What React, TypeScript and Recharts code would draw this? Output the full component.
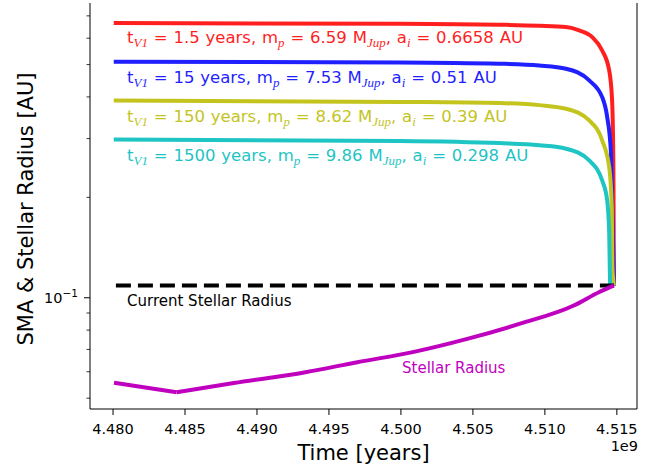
import { LineChart, Line, XAxis, YAxis } from "recharts"

// time in units of 1e9 years, radii / SMA in AU
const redTime = [4.48005, 4.49992, 4.50685, 4.50961, 4.51147, 4.51238, 4.51329, 4.51398, 4.51447, 4.51467, 4.51476, 4.5148]
const redSma = [0.6658, 0.663, 0.6585, 0.654, 0.6477, 0.633, 0.6045, 0.5513, 0.48, 0.3905, 0.2459, 0.1089]

const blueTime = [4.48005, 4.49992, 4.50685, 4.50961, 4.51147, 4.51308, 4.51398, 4.51433, 4.51458, 4.51467, 4.5148]
const blueSma = [0.51, 0.5077, 0.503, 0.497, 0.486, 0.4483, 0.3995, 0.3479, 0.2764, 0.1957, 0.1089]

const oliveTime = [4.48005, 4.49992, 4.50685, 4.50961, 4.51147, 4.51308, 4.51398, 4.51447, 4.51465, 4.51469, 4.5148]
const oliveSma = [0.39, 0.3865, 0.3833, 0.378, 0.3687, 0.3401, 0.2963, 0.2464, 0.1869, 0.1235, 0.1089]

const cyanTime = [4.48005, 4.49992, 4.50685, 4.50961, 4.51147, 4.51308, 4.51398, 4.51433, 4.51447, 4.51452, 4.51455, 4.5148]
const cyanSma = [0.298, 0.2953, 0.2908, 0.2865, 0.2798, 0.258, 0.2247, 0.1957, 0.1559, 0.115, 0.1089, 0.1089]

const starTime = [4.48007, 4.48442, 4.4884, 4.49337, 4.49698, 4.50082, 4.50467, 4.50828, 4.51201, 4.51375, 4.5148]
const starRadius = [0.0556, 0.0521, 0.0555, 0.0598, 0.0641, 0.0687, 0.0754, 0.0836, 0.0948, 0.1039, 0.1089]

const currentTime = [4.4802, 4.5148]
const currentRadius = [0.1088, 0.1088]

const xTicks = [4.48, 4.485, 4.49, 4.495, 4.5, 4.505, 4.51, 4.515]
const yTicks = [0.05, 0.06, 0.07, 0.08, 0.09, 0.1, 0.2, 0.3, 0.4, 0.5, 0.6, 0.7]

const tV1 = ["1.5", "15", "150", "1500"]
const planetMass = ["6.59", "7.53", "8.62", "9.86"]
const initialSma = ["0.6658", "0.51", "0.39", "0.298"]
const colors = ["#ff1f1f", "#1f1fff", "#c4c41f", "#1fc4c4"]

const zip = (xs: number[], ys: number[]) => xs.map((x, i) => ({ x, y: ys[i] }))
const planets = [zip(redTime, redSma), zip(blueTime, blueSma), zip(oliveTime, oliveSma), zip(cyanTime, cyanSma)]
const star = zip(starTime, starRadius)
const starDip = 1 // index of the minimum: sharp corner there

const FONT = "DejaVu Sans"
const MATH = "Liberation Serif"

const XTick = (props: any) => {
  const { x, y, payload } = props
  return (
    <g>
      <line x1={x} x2={x} y1={y} y2={y + 6} stroke="#000" strokeWidth={1} />
      <text x={x} y={y + 25} textAnchor="middle" fontSize={14.5} fontFamily={FONT} fill="#000">
        {payload.value.toFixed(3)}
      </text>
    </g>
  )
}

const YTick = (props: any) => {
  const { x, y, payload } = props
  const major = Math.abs(payload.value - 0.1) < 1e-9
  return (
    <g>
      <line x1={x - (major ? 6 : 3.5)} x2={x} y1={y} y2={y} stroke="#000" strokeWidth={major ? 1 : 0.8} />
      {major && (
        <text x={x - 12} y={y + 5} textAnchor="end" fontSize={14.5} fontFamily={FONT} fill="#000">
          10<tspan dy={-6} fontSize={10.5}>−1</tspan>
        </text>
      )}
    </g>
  )
}

const Sub = ({ s }: { s: string }) => (
  <tspan dy={4} fontSize={13} fontStyle="italic" fontFamily={MATH}>{s}</tspan>
)

const Annot = ({ i, y }: { i: number; y: number }) => (
  <text x={127} y={y} fontSize={16.5} fontFamily={FONT} fill={colors[i]} style={{ wordSpacing: 0.6 }}>
    t<Sub s="V1" />
    <tspan dy={-4}>{` = ${tV1[i]} years, m`}</tspan>
    <Sub s="p" />
    <tspan dy={-4}>{` = ${planetMass[i]} M`}</tspan>
    <Sub s="Jup" />
    <tspan dy={-4}>{`, a`}</tspan>
    <Sub s="i" />
    <tspan dy={-4}>{` = ${initialSma[i]} AU`}</tspan>
  </text>
)

export default function App() {
  const annotY = [43, 82.5, 121.5, 160.5]
  return (
    <div style={{ position: "absolute", left: 0, top: 0, width: 665, height: 466, background: "#fff" }}>
      <LineChart width={665} height={466} margin={{ top: 3, right: 0, bottom: 0, left: 0 }}>
        <XAxis
          dataKey="x"
          type="number"
          domain={[4.4784, 4.5164]}
          allowDataOverflow
          ticks={xTicks}
          interval={0}
          height={57}
          tickSize={0}
          tickMargin={0}
          tickLine={false}
          axisLine={{ stroke: "#000", strokeWidth: 1 }}
          tick={<XTick />}
        />
        <XAxis xAxisId="top" orientation="top" type="number" domain={[4.4784, 4.5164]} height={0} tick={false} tickLine={false} axisLine={{ stroke: "#000", strokeWidth: 1 }} />
        <YAxis
          dataKey="y"
          scale="log"
          type="number"
          domain={[0.0464, 0.765]}
          allowDataOverflow
          ticks={yTicks}
          interval={0}
          width={90}
          tickSize={0}
          tickMargin={0}
          tickLine={false}
          axisLine={{ stroke: "#000", strokeWidth: 1 }}
          tick={<YTick />}
        />
        <YAxis yAxisId="right" orientation="right" width={28} tick={false} tickLine={false} axisLine={{ stroke: "#000", strokeWidth: 1 }} />
        {planets.map((d, i) => (
          <Line key={i} data={d} dataKey="y" type="monotone" stroke={colors[i]} strokeWidth={4} dot={false} isAnimationActive={false} />
        ))}
        <Line data={zip(currentTime, currentRadius)} dataKey="y" type="linear" stroke="#000" strokeWidth={4} strokeDasharray="15 7" dot={false} isAnimationActive={false} />
        <Line data={star.slice(0, starDip + 1)} dataKey="y" type="linear" stroke="#bf00bf" strokeWidth={4} dot={false} isAnimationActive={false} />
        <Line data={star.slice(starDip)} dataKey="y" type="monotone" stroke="#bf00bf" strokeWidth={4} dot={false} isAnimationActive={false} />
      </LineChart>
      <svg width={665} height={466} style={{ position: "absolute", left: 0, top: 0, pointerEvents: "none" }}>
        {annotY.map((y, i) => (
          <Annot key={i} i={i} y={y} />
        ))}
        <text x={127} y={305.5} fontSize={15} fontFamily={FONT} fill="#000">Current Stellar Radius</text>
        <text x={402} y={373} fontSize={15} fontFamily={FONT} fill="#bf00bf">Stellar Radius</text>
        <text x={363.5} y={460} textAnchor="middle" fontSize={21} fontFamily={FONT} fill="#000">Time [years]</text>
        <text x={26} y={209} transform="rotate(-90 26 209)" textAnchor="middle" dominantBaseline="central" fontSize={21} fontFamily={FONT} fill="#000">
          SMA &amp; Stellar Radius [AU]
        </text>
        <text x={638} y={451} textAnchor="end" fontSize={14.5} fontFamily={FONT} fill="#000">1e9</text>
      </svg>
    </div>
  )
}
